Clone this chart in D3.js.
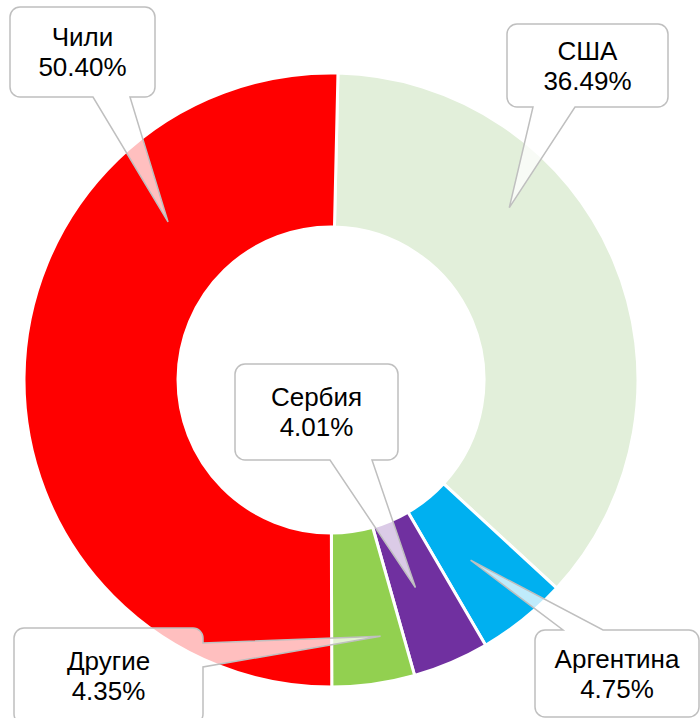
<!DOCTYPE html>
<html>
<head>
<meta charset="utf-8">
<script src="https://cdn.jsdelivr.net/npm/d3@7/dist/d3.min.js"></script>
<style>
  html, body { margin: 0; padding: 0; background: #fff; }
  svg { display: block; }
</style>
</head>
<body>
<svg width="700" height="718"></svg>
<script>
// data
const categories = ['США', 'Аргентина', 'Сербия', 'Другие', 'Чили'];
const shares = [36.49, 4.75, 4.01, 4.35, 50.40];
const colors = ['#E2EFDA', '#00B0F0', '#7030A0', '#92D050', '#FF0000'];

const width = 700, height = 718;
const cx = 331, cy = 380;
const outerR = 307, innerR = 153;
const firstAngle = 1.3 * Math.PI / 180; // first slice starts a touch past 12 o'clock

const svg = d3.select('svg');

const pie = d3.pie()
    .sort(null)
    .startAngle(firstAngle)
    .endAngle(firstAngle + 2 * Math.PI)
    .value(d => d.v);

const arc = d3.arc()
    .innerRadius(innerR)
    .outerRadius(outerR);

const arcs = pie(categories.map((c, i) => ({ c: c, v: shares[i], col: colors[i] })));

const g = svg.append('g')
    .attr('transform', 'translate(' + [cx, cy] + ')');

g.selectAll('path.slice')
    .data(arcs)
    .enter().append('path')
    .attr('class', 'slice')
    .attr('d', arc)
    .attr('fill', d => d.data.col)
    .attr('stroke', '#fff')
    .attr('stroke-width', 3);

// callout layout: box (x, y, w, h), side of the pointer, pointer base,
// and where the tip sits inside the slice (t = fraction of the slice angle, r = radius)
const callouts = {
    'США':       { x: 507, y: 24,  w: 161, h: 83, side: 'bottom', b0: 533, b1: 575, t: 0.34, r: 248 },
    'Аргентина': { x: 535, y: 630, w: 164, h: 87, side: 'top',    b0: 563, b1: 603, t: 0.56, r: 228 },
    'Сербия':    { x: 235, y: 364, w: 163, h: 96, side: 'bottom', b0: 330, b1: 372, t: 0.56, r: 224 },
    'Другие':    { x: 14,  y: 628, w: 189, h: 96, side: 'right',  b0: 643, b1: 667, t: 0.31, r: 261 },
    'Чили':      { x: 10,  y: 7,   w: 145, h: 90, side: 'bottom', b0: 93,  b1: 130, t: 0.74, r: 227 }
};

function tipPoint(d, c) {
    var a = d.startAngle + c.t * (d.endAngle - d.startAngle);
    return [cx + Math.sin(a) * c.r, cy - Math.cos(a) * c.r];
}

function calloutPath(c, tip) {
    var x = c.x, y = c.y, w = c.w, h = c.h, r = 10;
    var p = d3.path();
    p.moveTo(x + r, y);
    if (c.side === 'top') { p.lineTo(c.b0, y); p.lineTo(tip[0], tip[1]); p.lineTo(c.b1, y); }
    p.lineTo(x + w - r, y);
    p.arcTo(x + w, y, x + w, y + r, r);
    if (c.side === 'right') { p.lineTo(x + w, c.b0); p.lineTo(tip[0], tip[1]); p.lineTo(x + w, c.b1); }
    p.lineTo(x + w, y + h - r);
    p.arcTo(x + w, y + h, x + w - r, y + h, r);
    if (c.side === 'bottom') { p.lineTo(c.b1, y + h); p.lineTo(tip[0], tip[1]); p.lineTo(c.b0, y + h); }
    p.lineTo(x + r, y + h);
    p.arcTo(x, y + h, x, y + h - r, r);
    if (c.side === 'left') { p.lineTo(x, c.b1); p.lineTo(tip[0], tip[1]); p.lineTo(x, c.b0); }
    p.lineTo(x, y + r);
    p.arcTo(x, y, x + r, y, r);
    p.closePath();
    return p.toString();
}

const fmt = d3.format('.2f');

const labels = svg.selectAll('g.callout')
    .data(arcs)
    .enter().append('g')
    .attr('class', 'callout');

labels.append('path')
    .attr('d', d => calloutPath(callouts[d.data.c], tipPoint(d, callouts[d.data.c])))
    .attr('fill', '#fff')
    .attr('fill-opacity', 0.75)
    .attr('stroke', '#BFBFBF')
    .attr('stroke-width', 1.5);

const txt = labels.append('text')
    .attr('text-anchor', 'middle')
    .attr('font-family', '"Liberation Sans", Arial, sans-serif')
    .attr('font-size', 26)
    .attr('fill', '#000');

txt.append('tspan')
    .attr('x', d => callouts[d.data.c].x + callouts[d.data.c].w / 2)
    .attr('y', d => callouts[d.data.c].y + callouts[d.data.c].h / 2 - 6)
    .text(d => d.data.c);

txt.append('tspan')
    .attr('x', d => callouts[d.data.c].x + callouts[d.data.c].w / 2)
    .attr('y', d => callouts[d.data.c].y + callouts[d.data.c].h / 2 + 24)
    .text(d => fmt(d.data.v) + '%');
</script>
</body>
</html>
